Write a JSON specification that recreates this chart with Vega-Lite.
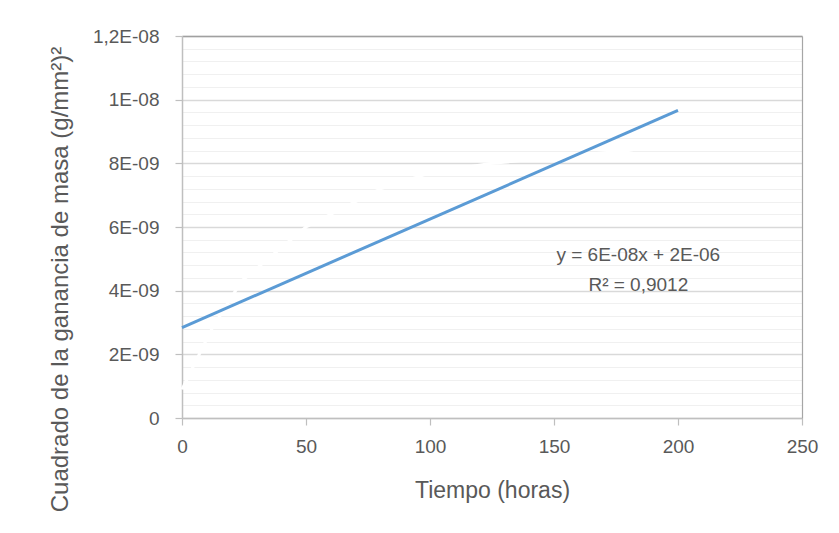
{
  "$schema": "https://vega.github.io/schema/vega-lite/v6.json",
  "autosize": "none",
  "width": 620,
  "height": 382,
  "padding": {"left": 182, "top": 36, "right": 37, "bottom": 115},
  "background": "white",
  "config": {
    "font": "Liberation Sans",
    "view": {"stroke": null}
  },
  "datasets": {
    "observed": [
      {"tiempo": 0, "valor": 0.9e-9},
      {"tiempo": 12, "valor": 2.8e-9},
      {"tiempo": 24, "valor": 4.3e-9},
      {"tiempo": 50, "valor": 6.0e-9},
      {"tiempo": 80, "valor": 7.2e-9},
      {"tiempo": 100, "valor": 7.7e-9},
      {"tiempo": 125, "valor": 8.0e-9},
      {"tiempo": 180, "valor": 8.4e-9},
      {"tiempo": 200, "valor": 8.7e-9}
    ],
    "trend": [
      {"tiempo": 0, "valor": 2.84e-9},
      {"tiempo": 200, "valor": 9.66e-9}
    ],
    "equation": [
      {"tiempo": 184, "valor": 5.12e-9, "texto": "y = 6E-08x + 2E-06"},
      {"tiempo": 184, "valor": 4.18e-9, "texto": "R² = 0,9012"}
    ]
  },
  "layer": [
    {
      "data": {"name": "observed"},
      "mark": {"type": "line", "color": "white", "strokeWidth": 3},
      "encoding": {
        "x": {
          "field": "tiempo", "type": "quantitative",
          "scale": {"domain": [0, 250], "nice": false, "zero": false},
          "axis": {"orient": "top", "labels": false, "ticks": false, "grid": false, "title": null, "domainColor": "#a0a0a0", "domainWidth": 1.5}
        },
        "y": {
          "field": "valor", "type": "quantitative",
          "scale": {"domain": [0, 1.2e-8], "nice": false, "zero": false},
          "axis": {
            "orient": "right", "labels": false, "ticks": false, "title": null,
            "domainColor": "#a6a6a6", "domainWidth": 1.2,
            "grid": true, "gridColor": "#f0f0f0", "gridWidth": 1.2,
            "values": [4e-10, 8e-10, 1.2e-9, 1.6e-9, 2.4e-9, 2.8e-9, 3.2e-9, 3.6e-9, 4.4e-9, 4.8e-9, 5.2e-9, 5.6e-9, 6.4e-9, 6.8e-9, 7.2e-9, 7.6e-9, 8.4e-9, 8.8e-9, 9.2e-9, 9.6e-9, 1.04e-8, 1.08e-8, 1.12e-8, 1.16e-8]
          }
        }
      }
    },
    {
      "data": {"name": "trend"},
      "mark": {"type": "line", "color": "#5b9bd5", "strokeWidth": 3},
      "encoding": {
        "x": {
          "field": "tiempo", "type": "quantitative",
          "scale": {"domain": [0, 250], "nice": false, "zero": false},
          "axis": {
            "orient": "bottom", "values": [0, 50, 100, 150, 200, 250], "format": "d",
            "grid": false, "domainColor": "#bfbfbf", "domainWidth": 1.5,
            "tickColor": "#bfbfbf", "tickSize": 7, "tickWidth": 1.2,
            "labelFontSize": 19, "labelColor": "#595959", "labelPadding": 12, "labelFlush": false,
            "title": "Tiempo (horas)", "titleFontSize": 23, "titleFontWeight": "normal",
            "titleColor": "#595959", "titleBaseline": "middle", "titleY": 72, "titleX": 310
          }
        },
        "y": {
          "field": "valor", "type": "quantitative",
          "scale": {"domain": [0, 1.2e-8], "nice": false, "zero": false},
          "axis": {
            "orient": "left", "values": [0, 2e-9, 4e-9, 6e-9, 8e-9, 1e-8, 1.2e-8],
            "labelExpr": "datum.value == 0 ? '0' : (datum.value < 9.9e-9 ? format(datum.value * 1e9, '.0f') + 'E-09' : replace(format(datum.value * 1e8, '.2~f'), '.', ',') + 'E-08')",
            "grid": true, "gridColor": "#d9d9d9", "gridWidth": 1.5,
            "domainColor": "#bfbfbf", "domainWidth": 1.5,
            "tickColor": "#bfbfbf", "tickSize": 7, "tickWidth": 1.2,
            "labelFontSize": 19, "labelColor": "#595959", "labelPadding": 16, "labelFlush": false,
            "title": "Cuadrado de la ganancia de masa  (g/mm²)²",
            "titleFontSize": 24, "titleFontWeight": "normal", "titleColor": "#595959",
            "titleAngle": -90, "titleAlign": "center", "titleBaseline": "middle",
            "titleX": -122, "titleY": 243
          }
        }
      }
    },
    {
      "data": {"name": "equation"},
      "mark": {"type": "text", "fontSize": 19, "color": "#595959", "align": "center", "baseline": "middle"},
      "encoding": {
        "x": {"field": "tiempo", "type": "quantitative", "axis": null},
        "y": {"field": "valor", "type": "quantitative", "axis": null},
        "text": {"field": "texto", "type": "nominal"}
      }
    }
  ],
  "resolve": {"axis": {"x": "independent", "y": "independent"}}
}
